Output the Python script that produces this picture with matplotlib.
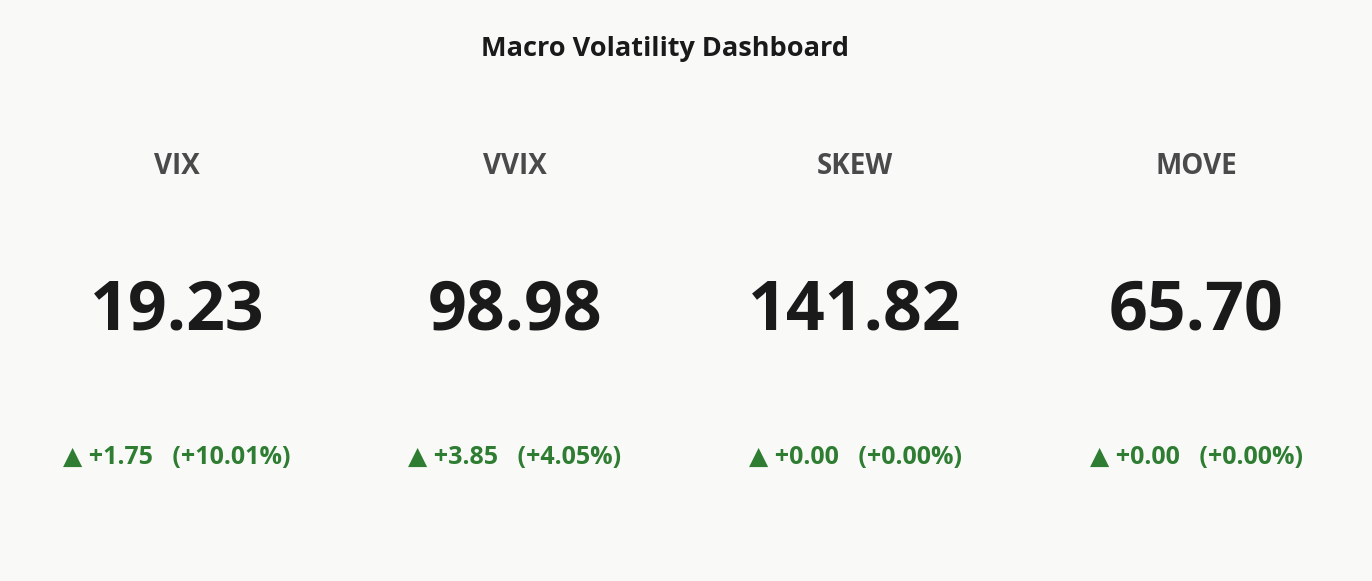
import matplotlib
matplotlib.use("Agg")
import matplotlib.pyplot as plt

names = ["VIX", "VVIX", "SKEW", "MOVE"]
values = [19.23, 98.98, 141.82, 65.70]
changes = [1.75, 3.85, 0.00, 0.00]
pcts = [10.01, 4.05, 0.00, 0.00]

W, H = 1372, 581
fig = plt.figure(figsize=(W/100, H/100), dpi=100)
bg = "#f9f9f7"
fig.patch.set_facecolor(bg)
fam = ["Open Sans", "DejaVu Sans"]
fig.text(665/W, 1-49/H, "Macro Volatility Dashboard", ha="center", va="center",
         fontsize=19.5, fontweight="bold", color="#1a1a1a", family=fam)
xs = [177, 515, 855, 1196]
for x, n, v, c, p in zip(xs, names, values, changes, pcts):
    fig.text(x/W, 1-166/H, n, ha="center", va="center", fontsize=20,
             fontweight="bold", color="#4a4a4a", family=fam)
    fig.text(x/W, 1-312/H, f"{v:.2f}", ha="center", va="center", fontsize=49,
             fontweight="bold", color="#1a1a1a", family=fam)
    fig.text(x/W, 1-458/H, f"▲ {c:+.2f}   ({p:+.2f}%)", ha="center", va="center",
             fontsize=18, fontweight="bold", color="#2e7d32", family=fam)
fig.savefig("out.png", dpi=100, facecolor=bg)
